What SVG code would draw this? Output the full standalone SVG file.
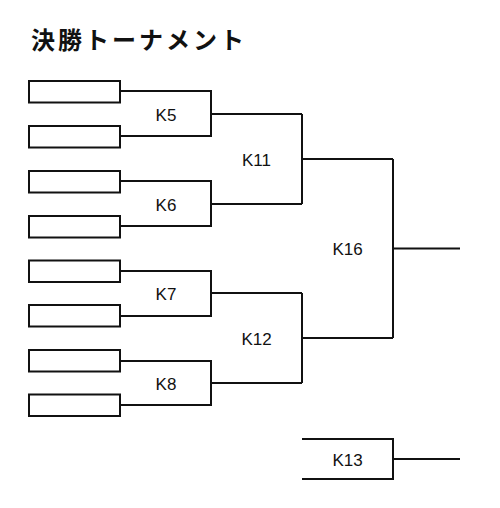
<svg xmlns="http://www.w3.org/2000/svg" width="500" height="508" viewBox="0 0 500 508">
<style>
.box{fill:#fff;stroke:#111;stroke-width:2}
.ln{fill:none;stroke:#111;stroke-width:2}
.lbl{font-family:"Liberation Sans",Arial,sans-serif;font-size:17px;fill:#111;text-anchor:middle}
.title{font-family:"Noto Sans CJK JP","Noto Sans CJK SC",sans-serif;font-size:24px;font-weight:bold;fill:#111;letter-spacing:3px}
</style>
<rect width="500" height="508" fill="#fff"/>
<text class="title" x="31" y="49">決勝トーナメント</text>
<g id="connectors">
<path class="ln" d="M120,91 H211 V136 H120 M211,114 H302"/>
<path class="ln" d="M120,181 H211 V226 H120 M211,204 H302"/>
<path class="ln" d="M120,271 H211 V316 H120 M211,293 H302"/>
<path class="ln" d="M120,361 H211 V405 H120 M211,383 H302"/>
<path class="ln" d="M302,114 V204 M302,159 H393"/>
<path class="ln" d="M302,293 V383 M302,338 H393"/>
<path class="ln" d="M393,159 V338 M393,248.5 H460"/>
<path class="ln" d="M302,439 H393 V479 H302 M393,459 H460"/>
</g>
<g id="p1"><rect class="box" x="29" y="81" width="91" height="21.5"/></g>
<g id="p2"><rect class="box" x="29" y="126" width="91" height="21.5"/></g>
<g id="p3"><rect class="box" x="29" y="171" width="91" height="21.5"/></g>
<g id="p4"><rect class="box" x="29" y="216" width="91" height="21.5"/></g>
<g id="p5"><rect class="box" x="29" y="260.5" width="91" height="21.5"/></g>
<g id="p6"><rect class="box" x="29" y="305" width="91" height="21.5"/></g>
<g id="p7"><rect class="box" x="29" y="350" width="91" height="21.5"/></g>
<g id="p8"><rect class="box" x="29" y="394.5" width="91" height="21.5"/></g>
<g id="k5"><text class="lbl" x="166" y="120.5">K5</text></g>
<g id="k6"><text class="lbl" x="166" y="210.5">K6</text></g>
<g id="k7"><text class="lbl" x="166" y="299.5">K7</text></g>
<g id="k8"><text class="lbl" x="166" y="389.5">K8</text></g>
<g id="k11"><text class="lbl" x="256.5" y="165.5">K11</text></g>
<g id="k12"><text class="lbl" x="256.5" y="344.5">K12</text></g>
<g id="k16"><text class="lbl" x="347.5" y="255">K16</text></g>
<g id="k13"><text class="lbl" x="347.5" y="465.5">K13</text></g>
</svg>
